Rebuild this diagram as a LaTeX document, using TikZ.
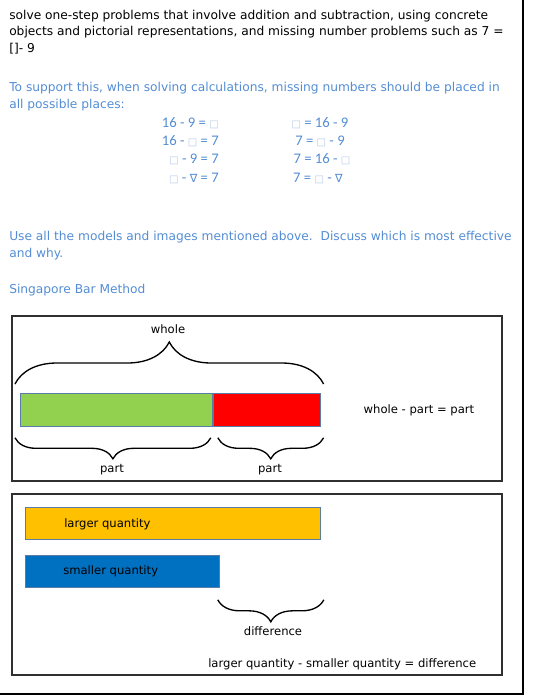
\documentclass[tikz,border=0pt]{standalone}
\usepackage{fontspec}
\setmainfont{DejaVu Sans}
\newfontfamily\eqfont{Carlito}
\newfontfamily\symfont{DejaVu Sans}
\usetikzlibrary{decorations.pathreplacing, calc, positioning}
\definecolor{noteblue}{HTML}{548DD4}
\definecolor{gapblue}{HTML}{B4C8E8}
\definecolor{panelgray}{HTML}{303030}
\definecolor{barline}{HTML}{5A7DA8}
\definecolor{wholegreen}{HTML}{92D050}
\definecolor{partred}{HTML}{FF0000}
\definecolor{largeorange}{HTML}{FFC000}
\definecolor{smallblue}{HTML}{0070C0}
\newcommand{\gap}{{\symfont\fontsize{7.5}{8}\selectfont\textcolor{gapblue}{□}}}
\newcommand{\nab}{{\symfont\fontsize{8.5}{9}\selectfont ∇}}

\begin{document}
\begin{tikzpicture}[x=0.75pt, y=-0.75pt,
  txt/.style={anchor=base west, inner sep=0pt, font=\fontsize{9.17}{10}\selectfont},
  note/.style={txt, text=noteblue},
  eq/.style={inner sep=0pt, text=noteblue, font=\eqfont\fontsize{11}{12}\selectfont},
  lbl/.style={inner sep=0pt, anchor=base, font=\fontsize{8.7}{9}\selectfont},
  panel/.style={draw=panelgray, line width=1.1pt},
  bar/.style={draw=barline, line width=0.6pt, inner sep=0pt, anchor=north west},
  brace/.style={decorate, decoration={brace, amplitude=#1}, line width=1pt},
]
  \useasboundingbox (0,0) rectangle (533,696);
  \draw[line width=1.5pt] (0,694) -- (523,694) -- (523,0);

  \node[txt] (l1) at (9,19) {solve one-step problems that involve addition and subtraction, using concrete};
  \node[txt] (l2) at (9,35.5) {objects and pictorial representations, and missing number problems such as 7 =};
  \node[txt] (l3) at (9,52) {[]- 9};

  \node[note] (s1) at (9,91) {To support this, when solving calculations, missing numbers should be placed in};
  \node[note] (s2) at (9,108) {all possible places:};

  % missing number positions
  \node[eq, anchor=base east] (a1) at (219,127) {16 - 9 = \gap};
  \node[eq, anchor=base east] (a2) at (219,145) {16 - \gap{} = 7};
  \node[eq, anchor=base east] (a3) at (219,163) {\gap{} - 9 = 7};
  \node[eq, anchor=base east] (a4) at (219,182) {\gap{} - \nab{} = 7};
  \node[eq, anchor=base] (b1) at (320,127) {\gap{} = 16 - 9};
  \node[eq, anchor=base] (b2) at (320,145) {7 = \gap{} - 9};
  \node[eq, anchor=base] (b3) at (322,163) {7 = 16 - \gap};
  \node[eq, anchor=base] (b4) at (318,182) {7 = \gap{} - \nab};

  \node[note] (u1) at (9,240) {Use all the models and images mentioned above.\ \ Discuss which is most effective};
  \node[note] (u2) at (9,257) {and why.};
  \node[note] (sg) at (9,293) {Singapore Bar Method};

  % part-whole model
  \draw[panel] (12,316) rectangle (502,481);
  \node[bar, fill=wholegreen, minimum width=144pt, minimum height=24.75pt] (green) at (20,393) {};
  \node[bar, fill=partred, minimum width=80.25pt, minimum height=24.75pt, anchor=west] (red) at (green.east) {};
  \draw[brace=31.5pt] ($(green.north west)+(-5,-9)$) -- ($(red.north east)+(3,-9)$);
  \draw[brace=15.75pt] ($(green.south east)+(-2,11)$) -- ($(green.south west)+(-5,11)$);
  \draw[brace=15.75pt] ($(red.south east)+(3,11)$) -- ($(red.south west)+(5,11)$);
  \node[lbl] (whole) at (168,333) {whole};
  \node[lbl] (part1) at (112,472) {part};
  \node[lbl] (part2) at (270,472) {part};
  \node[lbl] (rule1) at (419,413) {whole - part = part};

  % comparison model
  \draw[panel] (12,494) rectangle (502,675);
  \node[bar, fill=largeorange, minimum width=221.25pt, minimum height=24pt] (orange) at (25,507) {};
  \node[bar, fill=smallblue, minimum width=145.5pt, minimum height=24pt] (blue) at (25,555) {};
  \node[lbl, anchor=base west] (large) at (64,527) {larger quantity};
  \node[lbl, anchor=base west] (small) at (63,574) {smaller quantity};
  \draw[brace=16.5pt] ($(orange.east |- blue.south)+(3,12)$) -- ($(blue.south east)+(-2,12)$);
  \node[lbl] (diff) at (273,635) {difference};
  \node[lbl, anchor=base west] (rule2) at (208,667) {larger quantity - smaller quantity = difference};
\end{tikzpicture}
\end{document}
